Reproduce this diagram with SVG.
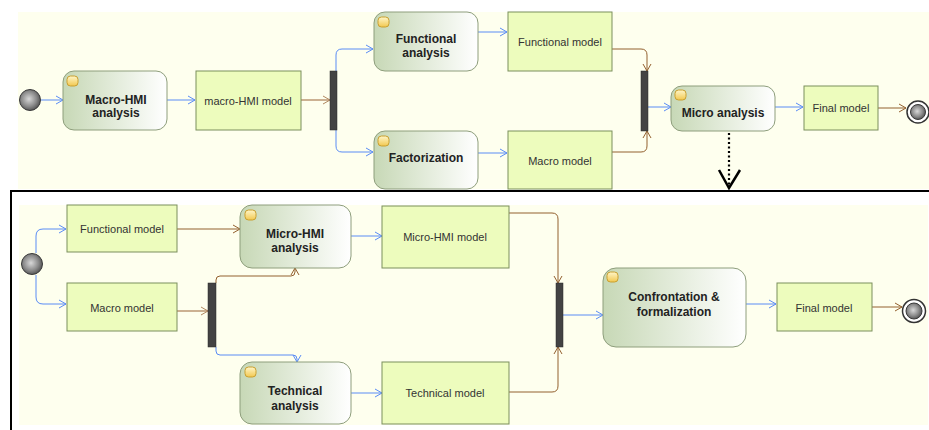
<svg xmlns="http://www.w3.org/2000/svg" width="929" height="430" viewBox="0 0 929 430">
<defs>
<linearGradient id="act" x1="0" y1="0" x2="1" y2="0">
<stop offset="0" stop-color="#C7D8B6"/>
<stop offset="1" stop-color="#FFFFFF"/>
</linearGradient>
<radialGradient id="ball" cx="0.45" cy="0.45" r="0.6">
<stop offset="0" stop-color="#D8D8D8"/>
<stop offset="0.6" stop-color="#8A8A8A"/>
<stop offset="1" stop-color="#4A4A4A"/>
</radialGradient>
<linearGradient id="icon" x1="0" y1="0" x2="0" y2="1">
<stop offset="0" stop-color="#FFF6C8"/>
<stop offset="1" stop-color="#F2C850"/>
</linearGradient>
<marker id="ab" markerUnits="userSpaceOnUse" markerWidth="10" markerHeight="12" refX="8" refY="5" orient="auto">
<path d="M1,1 L8,5 L1,9" fill="none" stroke="#5A8CF5" stroke-width="1"/>
</marker>
<marker id="ar" markerUnits="userSpaceOnUse" markerWidth="10" markerHeight="12" refX="8" refY="5" orient="auto">
<path d="M1,1 L8,5 L1,9" fill="none" stroke="#93602E" stroke-width="1"/>
</marker>
<marker id="al" markerUnits="userSpaceOnUse" markerWidth="10" markerHeight="12" refX="8" refY="5" orient="auto">
<path d="M1,1 L8,5 L1,9" fill="none" stroke="#B08760" stroke-width="1"/>
</marker>
</defs>
<style>
.bg{fill:#FEFFEE}
.act{fill:url(#act);stroke:#8E9E7C;stroke-width:1}
.mod{fill:#EDFCBD;stroke:#7B8F5C;stroke-width:1}
.bar{fill:#434343;stroke:#2A2A2A;stroke-width:0.5}
.ico{fill:url(#icon);stroke:#C9A030;stroke-width:1}
.t{font-family:"Liberation Sans",Arial,sans-serif;font-size:11px;fill:#333;text-anchor:middle}
.b{font-family:"Liberation Sans",Arial,sans-serif;font-size:12px;font-weight:bold;fill:#222;text-anchor:middle}
.blue{fill:none;stroke:#5A8CF5;stroke-width:1;marker-end:url(#ab)}
.brown{fill:none;stroke:#93602E;stroke-width:1;marker-end:url(#ar)}
.light{fill:none;stroke:#B08760;stroke-width:1.3;marker-end:url(#al)}
.start{fill:url(#ball);stroke:#3A3A3A;stroke-width:1}
</style>

<rect class="bg" x="18" y="12" width="911" height="177"/>
<rect class="bg" x="19" y="205" width="909" height="220"/>
<path d="M11,430 V191 H929" fill="none" stroke="#000" stroke-width="2"/>

<g id="connectors">
<path class="blue" d="M41,100 H63"/>
<path class="blue" d="M167,100 H195"/>
<path class="light" d="M301,100 H330"/>
<path class="blue" d="M336,72 V55 Q336,49 342,49 H373"/>
<path class="blue" d="M336,130 V146 Q336,152 342,152 H373"/>
<path class="blue" d="M478,32 H507"/>
<path class="blue" d="M478,153 H507"/>
<path class="brown" d="M612,49 H641 Q647,49 647,55 V71"/>
<path class="brown" d="M612,152 H641 Q647,152 647,146 V131"/>
<path class="blue" d="M648,107 H671"/>
<path class="blue" d="M775,107 H803"/>
<path class="brown" d="M878,108 H906"/>
<path d="M729,133 V186" fill="none" stroke="#000" stroke-width="2.2" stroke-dasharray="2,2.5"/>
<path d="M719,170 L729,188 L740,170" fill="none" stroke="#000" stroke-width="2.5"/>

<path class="blue" d="M36,253 V236 Q36,229 43,229 H66"/>
<path class="blue" d="M36,275 V297 Q36,304 43,304 H66"/>
<path class="brown" d="M177,229 H240"/>
<path class="light" d="M177,311 H208"/>
<path class="brown" d="M216,283 V280 Q216,276 220,276 H291 Q295,276 295,272 V268"/>
<path class="blue" d="M216,347 V351 Q216,355 220,355 H293 Q297,355 297,359 V362"/>
<path class="blue" d="M351,236 H382"/>
<path class="blue" d="M351,393 H382"/>
<path class="brown" d="M509,213 H552 Q558,213 558,219 V283"/>
<path class="brown" d="M509,392 H552 Q558,392 558,386 V347"/>
<path class="blue" d="M563,315 H603"/>
<path class="blue" d="M746,304 H776"/>
<path class="brown" d="M872,307 H902"/>
</g>

<g id="start1"><circle class="start" cx="30" cy="100" r="10.5"/></g>
<g id="macroHmiAnalysis">
<rect class="act" x="63" y="71" width="104" height="59" rx="11"/>
<rect class="ico" x="67" y="76" width="11" height="10" rx="3.5"/>
<text class="b" x="116" y="104">Macro-HMI</text>
<text class="b" x="116" y="117">analysis</text>
</g>
<g id="macroHmiModel">
<rect class="mod" x="196" y="71" width="105" height="59"/>
<text class="t" x="248" y="105">macro-HMI model</text>
</g>
<g id="fork1"><rect class="bar" x="330" y="71" width="7" height="59"/></g>
<g id="functionalAnalysis">
<rect class="act" x="374" y="12" width="104" height="59" rx="11"/>
<rect class="ico" x="378" y="17" width="11" height="10" rx="3.5"/>
<text class="b" x="426" y="43">Functional</text>
<text class="b" x="426" y="57">analysis</text>
</g>
<g id="factorization">
<rect class="act" x="374" y="131" width="104" height="58" rx="11"/>
<rect class="ico" x="378" y="136" width="11" height="10" rx="3.5"/>
<text class="b" x="426" y="162">Factorization</text>
</g>
<g id="functionalModel1">
<rect class="mod" x="508" y="12" width="104" height="59"/>
<text class="t" x="560" y="46">Functional model</text>
</g>
<g id="macroModel1">
<rect class="mod" x="508" y="131" width="104" height="58"/>
<text class="t" x="560" y="165">Macro model</text>
</g>
<g id="join1"><rect class="bar" x="641" y="71" width="7" height="60"/></g>
<g id="microAnalysis">
<rect class="act" x="671" y="86" width="104" height="45" rx="11"/>
<rect class="ico" x="675" y="90" width="11" height="10" rx="3.5"/>
<text class="b" x="723" y="117">Micro analysis</text>
</g>
<g id="finalModel1">
<rect class="mod" x="804" y="86" width="74" height="44"/>
<text class="t" x="841" y="112">Final model</text>
</g>
<g id="end1">
<circle cx="918" cy="112" r="11" fill="#fff" stroke="#333" stroke-width="1.5"/>
<circle class="start" cx="918" cy="112" r="7.5"/>
</g>

<g id="start2"><circle class="start" cx="32" cy="264" r="10.5"/></g>
<g id="functionalModel2">
<rect class="mod" x="67" y="205" width="110" height="47"/>
<text class="t" x="122" y="233">Functional model</text>
</g>
<g id="macroModel2">
<rect class="mod" x="67" y="283" width="110" height="48"/>
<text class="t" x="122" y="312">Macro model</text>
</g>
<g id="fork2"><rect class="bar" x="208" y="283" width="8" height="64"/></g>
<g id="microHmiAnalysis">
<rect class="act" x="240" y="205" width="111" height="63" rx="12"/>
<rect class="ico" x="245" y="210" width="11" height="10" rx="3.5"/>
<text class="b" x="295" y="238">Micro-HMI</text>
<text class="b" x="295" y="252">analysis</text>
</g>
<g id="technicalAnalysis">
<rect class="act" x="240" y="362" width="111" height="62" rx="12"/>
<rect class="ico" x="245" y="367" width="11" height="10" rx="3.5"/>
<text class="b" x="295" y="395">Technical</text>
<text class="b" x="295" y="410">analysis</text>
</g>
<g id="microHmiModel">
<rect class="mod" x="382" y="206" width="127" height="62"/>
<text class="t" x="445" y="241">Micro-HMI model</text>
</g>
<g id="technicalModel">
<rect class="mod" x="382" y="362" width="127" height="62"/>
<text class="t" x="445" y="397">Technical model</text>
</g>
<g id="join2"><rect class="bar" x="556" y="283" width="7" height="64"/></g>
<g id="confrontation">
<rect class="act" x="603" y="268" width="143" height="79" rx="13"/>
<rect class="ico" x="607" y="272" width="11" height="10" rx="3.5"/>
<text class="b" x="674" y="301">Confrontation &amp;</text>
<text class="b" x="674" y="316">formalization</text>
</g>
<g id="finalModel2">
<rect class="mod" x="777" y="283" width="95" height="48"/>
<text class="t" x="824" y="312">Final model</text>
</g>
<g id="end2">
<circle cx="914" cy="311" r="11.5" fill="#fff" stroke="#333" stroke-width="1.5"/>
<circle class="start" cx="914" cy="311" r="8"/>
</g>
</svg>
